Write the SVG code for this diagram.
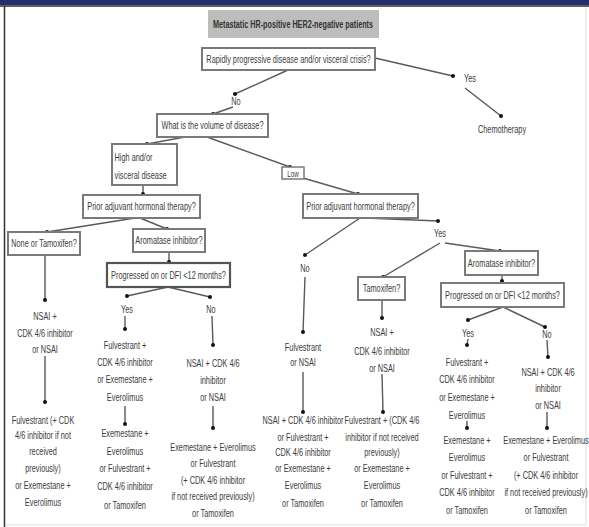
<svg xmlns="http://www.w3.org/2000/svg" width="589" height="527" viewBox="0 0 589 527">
<style>
text{font-family:"Liberation Sans",Arial,sans-serif;font-size:10.5px;fill:#3c3c3c;text-anchor:middle}
.l{text-anchor:start}
.box{fill:#fff;stroke:#7a7a7a;stroke-width:2}
.box2{fill:#fff;stroke:#555;stroke-width:2.2}
.c line,.c path{stroke:#5a5a5a;stroke-width:1.4;fill:none}
.c circle{fill:#111}
</style>
<rect x="0" y="0" width="589" height="527" fill="#fff"/>
<rect x="0" y="0" width="589" height="5" fill="#262c6c"/>
<line x1="0" y1="6" x2="589" y2="6" stroke="#2a2a2a" stroke-width="1.5"/>
<line x1="4.5" y1="6" x2="4.5" y2="527" stroke="#333" stroke-width="1.5"/>
<line x1="586" y1="7" x2="586" y2="525" stroke="#ddd" stroke-width="1"/>
<line x1="5" y1="525" x2="586" y2="525" stroke="#ddd" stroke-width="1"/>

<g id="title">
<rect x="208" y="10" width="171" height="28" fill="#bdbdbd"/>
<text x="293" y="28" textLength="160" lengthAdjust="spacingAndGlyphs" style="font-weight:bold;fill:#333">Metastatic HR-positive HER2-negative patients</text>
</g>

<g class="c" id="connectors">
<line x1="288" y1="70" x2="235" y2="94"/><circle cx="235" cy="94" r="2"/>
<line x1="233" y1="107" x2="213" y2="114"/><circle cx="213" cy="114" r="2"/>
<line x1="375" y1="58" x2="453" y2="76"/><circle cx="453" cy="76" r="2"/>
<line x1="465" y1="88" x2="501" y2="116"/><circle cx="501" cy="116" r="2"/>
<line x1="185" y1="137" x2="147" y2="144"/><circle cx="147" cy="144" r="2"/>
<line x1="207" y1="137" x2="290" y2="167"/><circle cx="290" cy="167" r="2"/>
<line x1="303" y1="178" x2="358" y2="194"/><circle cx="358" cy="194" r="2"/>
<line x1="143" y1="185" x2="143" y2="194"/><circle cx="143" cy="194" r="2"/>
<line x1="135" y1="218" x2="47" y2="232"/><circle cx="47" cy="232" r="2"/>
<line x1="140" y1="218" x2="167" y2="229"/><circle cx="167" cy="229" r="2"/>
<line x1="169" y1="252" x2="169" y2="262"/><circle cx="169" cy="262" r="2"/>
<line x1="168" y1="287" x2="127" y2="296"/><circle cx="127" cy="296" r="2"/>
<line x1="168" y1="287" x2="210" y2="297"/><circle cx="210" cy="297" r="2"/>
<line x1="45" y1="255" x2="45" y2="300"/><circle cx="45" cy="300" r="2"/>
<line x1="45" y1="356" x2="45" y2="402"/><circle cx="45" cy="402" r="2"/>
<line x1="125" y1="316" x2="125" y2="329"/><circle cx="125" cy="329" r="2"/>
<line x1="125" y1="406" x2="125" y2="424"/><circle cx="125" cy="424" r="2"/>
<line x1="212" y1="316" x2="213" y2="345"/><circle cx="213" cy="345" r="2"/>
<line x1="213" y1="406" x2="213" y2="428"/><circle cx="213" cy="428" r="2"/>
<line x1="360" y1="218" x2="305" y2="255"/><circle cx="305" cy="255" r="2"/>
<line x1="365" y1="218" x2="438" y2="221"/><circle cx="438" cy="221" r="2"/>
<line x1="440" y1="243" x2="383" y2="277"/><circle cx="383" cy="277" r="2"/>
<line x1="445" y1="243" x2="500" y2="251"/><circle cx="500" cy="251" r="2"/>
<line x1="502" y1="275" x2="502" y2="281"/><circle cx="502" cy="281" r="2"/>
<line x1="503" y1="307" x2="468" y2="320"/><circle cx="468" cy="320" r="2"/>
<line x1="503" y1="307" x2="545" y2="327"/><circle cx="545" cy="327" r="2"/>
<line x1="305" y1="277" x2="303" y2="332"/><circle cx="303" cy="332" r="2"/>
<line x1="303" y1="372" x2="303" y2="412"/><circle cx="303" cy="412" r="2"/>
<line x1="382" y1="300" x2="382" y2="318"/><circle cx="382" cy="318" r="2"/>
<line x1="382" y1="374" x2="383" y2="412"/><circle cx="383" cy="412" r="2"/>
<line x1="468" y1="339" x2="467" y2="345"/><circle cx="467" cy="345" r="2"/>
<line x1="467" y1="421" x2="467" y2="428"/><circle cx="467" cy="428" r="2"/>
<line x1="547" y1="340" x2="548" y2="357"/><circle cx="548" cy="357" r="2"/>
<line x1="547" y1="412" x2="547" y2="428"/><circle cx="547" cy="428" r="2"/>
</g>

<g id="q-rapid">
<rect class="box" x="202" y="48" width="173" height="22"/>
<g transform="translate(288.5,0) scale(0.7,1)"><text x="0" y="63">Rapidly progressive disease and/or visceral crisis?</text></g>
</g>
<g id="lbl-no1"><g transform="translate(236,0) scale(0.7,1)"><text x="0" y="105">No</text></g></g>
<g id="lbl-yes1"><g transform="translate(470,0) scale(0.7,1)"><text x="0" y="82">Yes</text></g></g>
<g id="chemo"><g transform="translate(502,0) scale(0.7,1)"><text x="0" y="133">Chemotherapy</text></g></g>

<g id="q-volume">
<rect class="box" x="157" y="114" width="111" height="23"/>
<g transform="translate(212.5,0) scale(0.7,1)"><text x="0" y="129.5">What is the volume of disease?</text></g>
</g>

<g id="high">
<rect class="box" x="112" y="144" width="65" height="41"/>
<g transform="translate(114.5,0) scale(0.7,1)"><text class="l" x="0" y="161">High and/or</text><text class="l" x="0" y="179">visceral disease</text></g>
</g>

<g id="low">
<rect class="box" x="282" y="167" width="22" height="12" style="stroke-width:1.5"/>
<g transform="translate(293,0) scale(0.7,1)"><text x="0" y="177" style="font-size:9px">Low</text></g>
</g>

<g id="prior1">
<rect class="box" x="83" y="195" width="117" height="23"/>
<g transform="translate(141.5,0) scale(0.7,1)"><text x="0" y="210">Prior adjuvant hormonal therapy?</text></g>
</g>
<g id="none-tam">
<rect class="box" x="8" y="232" width="72" height="23"/>
<g transform="translate(44,0) scale(0.7,1)"><text x="0" y="247">None or Tamoxifen?</text></g>
</g>
<g id="ai1">
<rect class="box" x="133" y="229" width="72" height="23"/>
<g transform="translate(169,0) scale(0.7,1)"><text x="0" y="244">Aromatase inhibitor?</text></g>
</g>
<g id="prog1">
<rect class="box2" x="107" y="263" width="123" height="24"/>
<g transform="translate(168.5,0) scale(0.7,1)"><text x="0" y="279">Progressed on or DFI &lt;12 months?</text></g>
</g>
<g id="lbl-yes2"><g transform="translate(127,0) scale(0.7,1)"><text x="0" y="313">Yes</text></g></g>
<g id="lbl-no2"><g transform="translate(211,0) scale(0.7,1)"><text x="0" y="313">No</text></g></g>

<g id="col1"><g transform="translate(45,0) scale(0.7,1)">
<text x="0" y="320">NSAI +</text><text x="0" y="337">CDK 4/6 inhibitor</text><text x="0" y="353">or NSAI</text>
</g></g>
<g id="col1b"><g transform="translate(43,0) scale(0.7,1)">
<text x="0" y="424">Fulvestrant (+ CDK</text><text x="0" y="439.5">4/6 inhibitor if not</text><text x="0" y="455">received</text><text x="0" y="472">previously)</text><text x="0" y="489">or Exemestane +</text><text x="0" y="506">Everolimus</text>
</g></g>

<g id="col2"><g transform="translate(125,0) scale(0.7,1)">
<text x="0" y="349">Fulvestrant +</text><text x="0" y="366">CDK 4/6 inhibitor</text><text x="0" y="383">or Exemestane +</text><text x="0" y="401">Everolimus</text>
</g></g>
<g id="col2b"><g transform="translate(125,0) scale(0.7,1)">
<text x="0" y="437">Exemestane +</text><text x="0" y="455">Everolimus</text><text x="0" y="472">or Fulvestrant +</text><text x="0" y="490">CDK 4/6 inhibitor</text><text x="0" y="509">or Tamoxifen</text>
</g></g>

<g id="col3"><g transform="translate(213,0) scale(0.7,1)">
<text x="0" y="367">NSAI + CDK 4/6</text><text x="0" y="384">inhibitor</text><text x="0" y="401">or NSAI</text>
</g></g>
<g id="col3b"><g transform="translate(213,0) scale(0.7,1)">
<text x="0" y="451">Exemestane + Everolimus</text><text x="0" y="467">or Fulvestrant</text><text x="0" y="484">(+ CDK 4/6 inhibitor</text><text x="0" y="500">if not received previously)</text><text x="0" y="517">or Tamoxifen</text>
</g></g>

<g id="prior2">
<rect class="box" x="303" y="194" width="115" height="24"/>
<g transform="translate(360.5,0) scale(0.7,1)"><text x="0" y="210">Prior adjuvant hormonal therapy?</text></g>
</g>
<g id="lbl-no3"><g transform="translate(305,0) scale(0.7,1)"><text x="0" y="272">No</text></g></g>
<g id="lbl-yes3"><g transform="translate(440,0) scale(0.7,1)"><text x="0" y="237">Yes</text></g></g>
<g id="tam">
<rect class="box" x="358" y="277" width="47" height="23"/>
<g transform="translate(381.5,0) scale(0.7,1)"><text x="0" y="292">Tamoxifen?</text></g>
</g>
<g id="ai2">
<rect class="box" x="465" y="251" width="73" height="24"/>
<g transform="translate(501.5,0) scale(0.7,1)"><text x="0" y="267">Aromatase inhibitor?</text></g>
</g>
<g id="prog2">
<rect class="box" x="441" y="283" width="123" height="24"/>
<g transform="translate(502.5,0) scale(0.7,1)"><text x="0" y="299">Progressed on or DFI &lt;12 months?</text></g>
</g>
<g id="lbl-yes4"><g transform="translate(468,0) scale(0.7,1)"><text x="0" y="337">Yes</text></g></g>
<g id="lbl-no4"><g transform="translate(547,0) scale(0.7,1)"><text x="0" y="338">No</text></g></g>

<g id="col4"><g transform="translate(303,0) scale(0.7,1)">
<text x="0" y="351">Fulvestrant</text><text x="0" y="366">or NSAI</text>
</g></g>
<g id="col4b"><g transform="translate(303,0) scale(0.7,1)">
<text x="0" y="424">NSAI + CDK 4/6 inhibitor</text><text x="0" y="441">or Fulvestrant +</text><text x="0" y="456">CDK 4/6 inhibitor</text><text x="0" y="472">or Exemestane +</text><text x="0" y="489">Everolimus</text><text x="0" y="507">or Tamoxifen</text>
</g></g>

<g id="col5"><g transform="translate(382,0) scale(0.7,1)">
<text x="0" y="336">NSAI +</text><text x="0" y="355">CDK 4/6 inhibitor</text><text x="0" y="372">or NSAI</text>
</g></g>
<g id="col5b"><g transform="translate(382,0) scale(0.7,1)">
<text x="0" y="424">Fulvestrant + (CDK 4/6</text><text x="0" y="441">inhibitor if not received</text><text x="0" y="456">previously)</text><text x="0" y="472">or Exemestane +</text><text x="0" y="489">Everolimus</text><text x="0" y="507">or Tamoxifen</text>
</g></g>

<g id="col6"><g transform="translate(467,0) scale(0.7,1)">
<text x="0" y="366">Fulvestrant +</text><text x="0" y="383">CDK 4/6 inhibitor</text><text x="0" y="401">or Exemestane +</text><text x="0" y="419">Everolimus</text>
</g></g>
<g id="col6b"><g transform="translate(467,0) scale(0.7,1)">
<text x="0" y="444">Exemestane +</text><text x="0" y="461">Everolimus</text><text x="0" y="479">or Fulvestrant +</text><text x="0" y="496">CDK 4/6 inhibitor</text><text x="0" y="514">or Tamoxifen</text>
</g></g>

<g id="col7"><g transform="translate(548,0) scale(0.7,1)">
<text x="0" y="376">NSAI + CDK 4/6</text><text x="0" y="392">inhibitor</text><text x="0" y="409">or NSAI</text>
</g></g>
<g id="col7b"><g transform="translate(546,0) scale(0.7,1)">
<text x="0" y="444">Exemestane + Everolimus</text><text x="0" y="461">or Fulvestrant</text><text x="0" y="479">(+ CDK 4/6 inhibitor</text><text x="0" y="496">if not received previously)</text><text x="0" y="514">or Tamoxifen</text>
</g></g>
</svg>
